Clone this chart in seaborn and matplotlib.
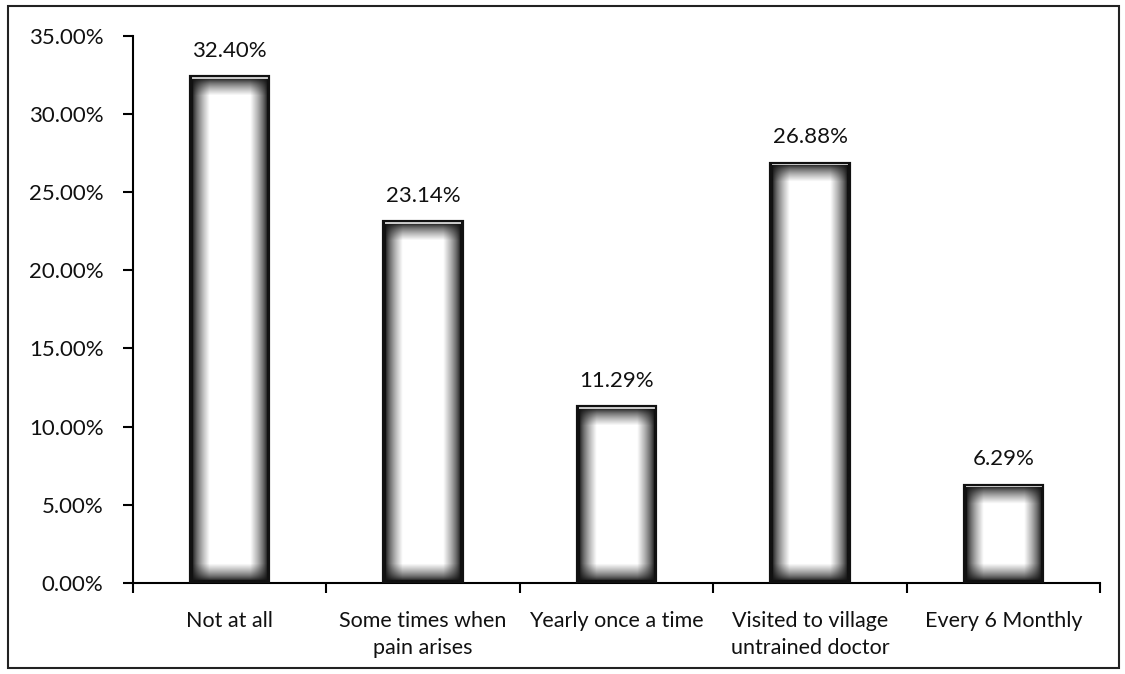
import numpy as np
import pandas as pd
import matplotlib
matplotlib.use("Agg")
import matplotlib.pyplot as plt
import seaborn as sns
from matplotlib.patches import Rectangle

categories = ["Not at all", "Some times when\npain arises", "Yearly once a time",
              "Visited to village\nuntrained doctor", "Every 6 Monthly"]
values = [32.40, 23.14, 11.29, 26.88, 6.29]
yticks = [0, 5, 10, 15, 20, 25, 30, 35]

df = pd.DataFrame({"cat": categories, "pct": values})

sns.set_style("white")
plt.rcParams["font.family"] = ["Lato", "DejaVu Sans"]

fig = plt.figure(figsize=(11.25, 6.74), dpi=100)
ax = fig.add_axes([0.118, 0.135, 0.86, 0.812])

sns.barplot(data=df, x="cat", y="pct", color="white", width=0.41,
            edgecolor="#111111", linewidth=1.5, ax=ax, zorder=2)

ax.set_xlim(-0.5, len(categories) - 0.5)
ax.set_ylim(0, 35)
ax.set_yticks(yticks)
ax.set_yticklabels([f"{t:.2f}%" for t in yticks], fontsize=16, color="#111111")

# boundary ticks (major) and labels at centres (minor)
ax.set_xticks(np.arange(len(categories) + 1) - 0.5)
ax.set_xticklabels([])
ax.set_xticks(np.arange(len(categories)), minor=True)
ax.set_xticklabels(categories, minor=True, fontsize=15.5, color="#111111", linespacing=1.45)
ax.tick_params(axis="x", which="minor", length=0, pad=20)
ax.tick_params(axis="x", which="major", direction="out", length=7, width=1.5, color="black", bottom=True)
ax.tick_params(axis="y", direction="out", length=7, width=1.5, color="black", left=True, pad=14)
ax.set_xlabel("")
ax.set_ylabel("")

for s in ["top", "right"]:
    ax.spines[s].set_visible(False)
for s in ["left", "bottom"]:
    ax.spines[s].set_color("black")
    ax.spines[s].set_linewidth(1.5)

# gradient shading: dark edges fading to white centre
fig.canvas.draw()
fade = 17.0
for p in ax.patches:
    x0, y0, w, h = p.get_x(), p.get_y(), p.get_width(), p.get_height()
    (px0, py0), (px1, py1) = ax.transData.transform([(x0, y0), (x0 + w, y0 + h)])
    W = max(int(round(abs(px1 - px0))), 2)
    H = max(int(round(abs(py1 - py0))), 2)
    xi = np.arange(W)
    yi = np.arange(H)
    dx = np.minimum(xi, W - 1 - xi)
    dy = np.minimum(yi, H - 1 - yi)
    sx = np.clip((dx - 2) / fade, 0, 1)
    sy = np.clip((dy - 2) / fade, 0, 1)
    shade = np.outer(sy, sx) ** 0.7
    shade = 0.07 + 0.93 * shade
    # light strip along the top edge
    shade[:3, 2:-2] = 0.8
    ax.imshow(shade, cmap="gray", vmin=0, vmax=1, extent=[x0, x0 + w, y0, y0 + h],
              origin="upper", aspect="auto", interpolation="bilinear", zorder=2.5)
    ax.add_patch(Rectangle((x0, y0), w, h, fill=False, edgecolor="#111111", linewidth=1.5, zorder=3))

ax.set_xlim(-0.5, len(categories) - 0.5)
ax.set_ylim(0, 35)

for i, v in enumerate(values):
    ax.text(i, v + 1.0, f"{v:.2f}%", ha="center", va="bottom", fontsize=16, color="#111111")

fig.patches.append(Rectangle((0.007, 0.009), 0.988, 0.982, transform=fig.transFigure,
                             fill=False, edgecolor="#222222", linewidth=1.5))

fig.savefig("out.png", dpi=100, facecolor="white")
